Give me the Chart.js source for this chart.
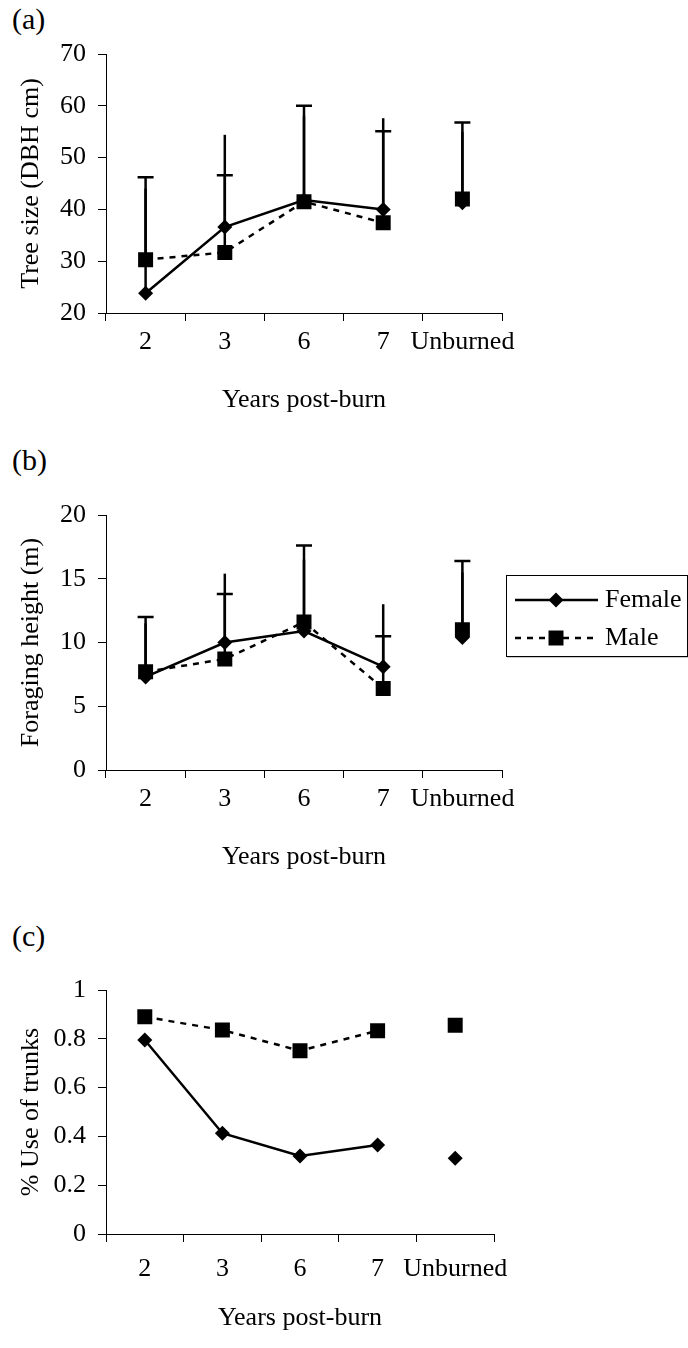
<!DOCTYPE html>
<html>
<head>
<meta charset="utf-8">
<script src="https://cdn.jsdelivr.net/npm/chart.js@4.4.1/dist/chart.umd.min.js"></script>
<style>
  html, body { margin: 0; padding: 0; background: #fff; }
  #page { position: relative; width: 688px; height: 1348px; overflow: hidden;
          font-family: "Liberation Serif", "Times New Roman", serif; }
  #page canvas { position: absolute; left: 0; }
  .panel { position: absolute; left: 12px; font-size: 30px; line-height: 30px; color: #000; }
</style>
</head>
<body>
<div id="page">
  <div class="panel" style="top:4px">(a)</div>
  <div class="panel" style="top:445px">(b)</div>
  <div class="panel" style="top:921px">(c)</div>
  <canvas id="chartA" width="688" height="430"></canvas>
  <canvas id="chartB" width="688" height="450"></canvas>
  <canvas id="chartC" width="688" height="448"></canvas>
</div>
<script>
// categories
const years = ["2", "3", "6", "7", "Unburned"]

// (a) tree size, DBH cm
const treeFemale = [23.8, 36.6, 41.8, 40.0, 41.3]
const treeMale = [30.3, 31.7, 41.5, 37.4, 42.0]
const treeFemaleTop = [44, 54.4, 58, 57.6, 55]
const treeMaleTop = [46.2, 46.6, 60, 55.1, 56.8]
const treeTicks = [20, 30, 40, 50, 60, 70]

// (b) foraging height, m
const heightFemale = [7.3, 10.0, 10.9, 8.1, 10.4]
const heightMale = [7.7, 8.7, 11.6, 6.4, 11.0]
const heightFemaleTop = [11.5, 15.4, 16.5, 13.0, 15.5]
const heightMaleTop = [12.0, 13.8, 17.6, 10.5, 16.4]
const heightTicks = [0, 5, 10, 15, 20]

// (c) proportion of use of trunks
const trunkFemale = [0.795, 0.413, 0.32, 0.365, 0.31]
const trunkMale = [0.89, 0.836, 0.751, 0.833, 0.856]
const trunkTicks = [0, 0.2, 0.4, 0.6, 0.8, 1]

const FONT = { family: "'Liberation Serif', 'Times New Roman', serif", size: 26 }
const INK = "#000"

// upper error bars; male ones carry a cap, female ones don't
const errorBars = {
  id: "errorBars",
  beforeDatasetsDraw(chart) {
    const { ctx, scales: { x, y } } = chart
    chart.data.datasets.forEach(ds => {
      if (!ds.errTop) return
      ctx.save()
      ctx.strokeStyle = INK
      ctx.lineWidth = 2.5
      ds.errTop.forEach((top, i) => {
        const px = x.getPixelForValue(i)
        const y0 = y.getPixelForValue(ds.data[i])
        const y1 = y.getPixelForValue(top)
        ctx.beginPath()
        ctx.moveTo(px, y0)
        ctx.lineTo(px, y1)
        if (ds.errCap) {
          ctx.moveTo(px - 8, y1)
          ctx.lineTo(px + 8, y1)
        }
        ctx.stroke()
      })
      ctx.restore()
    })
  }
}

// boxed legend to the right of panel (b)
const boxLegend = {
  id: "boxLegend",
  afterDraw(chart, args, opts) {
    if (!opts.show) return
    const { ctx } = chart
    const b = opts.box
    ctx.save()
    ctx.fillStyle = "#999"
    ctx.fillRect(b.left + 1, b.top + b.height, b.width, 1.5)
    ctx.strokeStyle = INK
    ctx.lineWidth = 1
    ctx.strokeRect(b.left + 0.5, b.top + 0.5, b.width, b.height)
    chart.data.datasets.forEach((ds, i) => {
      const y = b.top + opts.rows[i]
      ctx.strokeStyle = INK
      ctx.lineWidth = ds.borderWidth
      ctx.setLineDash(ds.borderDash || [])
      ctx.beginPath()
      ctx.moveTo(b.left + 9, y)
      ctx.lineTo(b.left + 92, y)
      ctx.stroke()
      ctx.setLineDash([])
      const mx = b.left + 50
      ctx.fillStyle = INK
      ctx.beginPath()
      if (ds.pointStyle === "rectRot") {
        const r = ds.pointRadius
        ctx.moveTo(mx - r, y); ctx.lineTo(mx, y - r); ctx.lineTo(mx + r, y); ctx.lineTo(mx, y + r)
      } else {
        const h = ds.pointRadius * Math.SQRT1_2
        ctx.rect(mx - h, y - h, 2 * h, 2 * h)
      }
      ctx.closePath()
      ctx.fill()
      ctx.font = `${FONT.size}px ${FONT.family}`
      ctx.textBaseline = "middle"
      ctx.fillText(ds.label, b.left + 99, y)
    })
    ctx.restore()
  }
}

function series(female, male, femaleTop, maleTop) {
  const hideLast = ctx => ctx.p1DataIndex === years.length - 1 ? "rgba(0,0,0,0)" : INK
  return [
    {
      label: "Female", data: female, errTop: femaleTop, errCap: false,
      borderColor: INK, backgroundColor: INK, borderWidth: 2.5,
      pointStyle: "rectRot", pointRadius: 7.5, pointBorderWidth: 0,
      order: 2, segment: { borderColor: hideLast }
    },
    {
      label: "Male", data: male, errTop: maleTop, errCap: true,
      borderColor: INK, backgroundColor: INK, borderWidth: 2.5, borderDash: [6, 6],
      pointStyle: "rect", pointRadius: 10.6, pointBorderWidth: 0,
      order: 1, segment: { borderColor: hideLast }
    }
  ]
}

function makeChart(id, layout, datasets, yTicks, yTitle, legend) {
  const canvas = document.getElementById(id)
  canvas.style.top = layout.canvasTop + "px"
  const xAxisHeight = 107
  return new Chart(canvas, {
    type: "line",
    data: { labels: years, datasets },
    options: {
      responsive: false,
      animation: false,
      devicePixelRatio: 1,
      layout: {
        padding: {
          left: 0,
          right: 688 - layout.plotRight,
          top: layout.plotTop - layout.canvasTop,
          bottom: layout.canvasHeight - (layout.plotBottom - layout.canvasTop) - xAxisHeight
        }
      },
      plugins: {
        legend: { display: false },
        tooltip: { enabled: false },
        boxLegend: legend || { show: false }
      },
      scales: {
        x: {
          type: "category",
          offset: true,
          afterFit: s => { s.height = xAxisHeight },
          border: { color: INK, width: 1 },
          grid: { offset: true, drawOnChartArea: false, tickLength: 8, color: INK },
          ticks: { color: INK, font: FONT, padding: layout.tickPad, maxRotation: 0, autoSkip: false },
          title: { display: true, text: "Years post-burn", color: INK, font: FONT, padding: { top: 0, bottom: layout.titlePad } }
        },
        y: {
          min: yTicks[0],
          max: yTicks[yTicks.length - 1],
          afterBuildTicks: s => { s.ticks = yTicks.map(v => ({ value: v })) },
          afterFit: s => { s.width = 106 },
          border: { color: INK, width: 1 },
          grid: { drawOnChartArea: false, tickLength: 8, color: INK },
          ticks: { color: INK, font: FONT, padding: 12, callback: v => String(v) },
          title: { display: true, text: yTitle, color: INK, font: FONT, padding: { top: 16, bottom: 0 } }
        }
      }
    },
    plugins: [errorBars, boxLegend]
  })
}

makeChart("chartA",
  { canvasTop: 0, canvasHeight: 430, plotTop: 54, plotBottom: 313, plotRight: 502, tickPad: 6, titlePad: 4 },
  series(treeFemale, treeMale, treeFemaleTop, treeMaleTop),
  treeTicks, "Tree size (DBH cm)")

makeChart("chartB",
  { canvasTop: 440, canvasHeight: 450, plotTop: 515, plotBottom: 770, plotRight: 502, tickPad: 6, titlePad: 4 },
  series(heightFemale, heightMale, heightFemaleTop, heightMaleTop),
  heightTicks, "Foraging height (m)",
  { show: true, box: { left: 506, top: 135, width: 181, height: 81 }, rows: [25, 63] })

makeChart("chartC",
  { canvasTop: 900, canvasHeight: 448, plotTop: 990, plotBottom: 1234, plotRight: 494, tickPad: 12, titlePad: 7 },
  series(trunkFemale, trunkMale, null, null),
  trunkTicks, "% Use of trunks")
</script>
</body>
</html>
